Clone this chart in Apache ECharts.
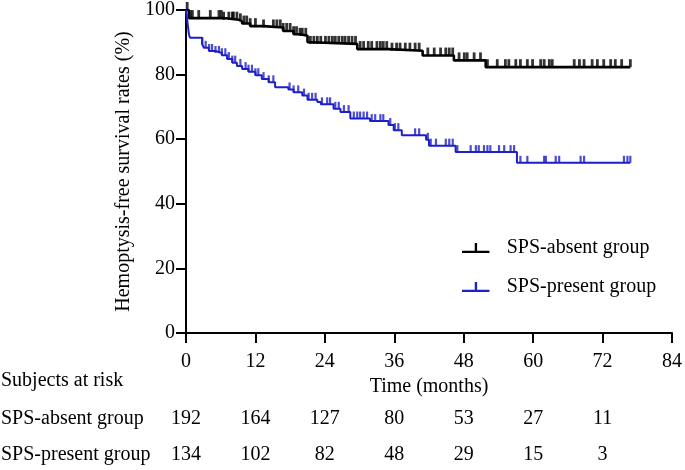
<!DOCTYPE html>
<html>
<head>
<meta charset="utf-8">
<script src="https://cdn.jsdelivr.net/npm/echarts@6/dist/echarts.min.js"></script>
<style>
html,body{margin:0;padding:0;background:#fff;}
#chart{width:685px;height:470px;}
</style>
</head>
<body>
<div id="chart"></div>
<script>
// ---- Data ----
const absentName = 'SPS-absent group';
const presentName = 'SPS-present group';

const absentTimes = [0, 0.5, 6.5, 9.1, 9.7, 11.1, 13.4, 16.8, 18.6, 19.7, 21.0, 21.5, 29.6, 35.0, 40.9, 46.3, 51.8, 76.8];
const absentSurv  = [100, 97.5, 97.0, 96.5, 95.8, 95.0, 94.6, 93.5, 92.5, 92.0, 90.0, 89.5, 87.9, 87.4, 85.9, 84.4, 82.3, 82.3];

const presentTimes = [0, 0.15, 0.3, 0.5, 0.7, 2.8, 3.1, 3.95, 5.1, 6.2, 7.1, 8.0, 8.8, 9.7, 10.8, 12.0, 13.1, 14.3, 15.4, 17.7, 18.6, 20.1, 21.0, 22.7, 23.3, 25.5, 26.7, 28.4, 31.8, 35.0, 35.9, 37.3, 41.5, 42.0, 46.6, 57.2, 76.8];
const presentSurv  = [100, 98, 95.5, 92.5, 91.4, 89.4, 88.3, 87.3, 86.7, 86.0, 84.8, 83.7, 82.7, 81.7, 80.9, 79.8, 78.6, 77.6, 76.1, 75.4, 74.5, 73.5, 72.2, 71.5, 70.8, 69.4, 68.4, 66.4, 65.6, 64.4, 62.8, 61.2, 59.8, 58.0, 56.0, 52.7, 52.7];

const absentCensor = [0.2, 0.7, 1.1, 2.2, 4.2, 5.7, 6.1, 6.5, 7.4, 8.0, 8.2, 8.8, 9.4, 10.0, 10.5, 11.1, 12.0, 13.4, 15.1, 15.7, 16.3, 16.8, 17.4, 18.0, 18.6, 19.1, 19.7,
  20.1, 20.7, 21.5, 22.1, 22.7, 23.3, 24.1, 24.7, 25.3, 25.8, 26.4, 27.0, 27.5, 28.1, 28.7, 29.3, 30.1, 30.7, 31.5, 32.1, 33.0, 33.6, 34.1, 34.7, 35.6, 36.4, 37.0, 37.9, 38.7, 39.6,
  40.3, 41.8, 42.9, 44.0, 44.9, 45.5, 46.1, 47.2, 48.1, 48.6, 49.8, 50.9, 52.1, 53.8, 55.2, 55.8, 57.0, 57.8, 59.0,
  59.9, 61.3, 61.9, 62.8, 63.3, 67.1, 68.0, 68.8, 70.2, 71.1, 72.2, 73.4, 74.2, 75.3, 76.8];

const presentCensor = [2.8, 3.4, 4.0, 4.5, 5.1, 5.7, 6.2, 6.8, 7.4, 8.0, 8.5, 9.4, 10.3, 10.8, 11.4, 12.0, 12.5, 13.4, 14.3, 15.1, 17.9, 18.6, 19.4,
  20.4, 21.2, 21.8, 22.4, 23.5, 24.4, 24.9, 25.8, 26.4, 27.3, 28.1, 29.0, 29.6, 30.1, 30.7, 31.3, 32.1, 32.7, 33.6, 34.1, 35.3, 36.1, 36.7, 39.6,
  40.3, 41.8, 42.3, 43.2, 44.9, 45.5, 46.1, 46.9, 49.2, 50.1, 50.6, 51.5, 52.1, 52.6, 54.1, 55.0, 56.1, 56.7, 57.8, 59.0,
  61.9, 62.2, 63.9, 64.5, 68.2, 68.8, 75.7, 76.3, 76.8];

const riskTimes = [0, 12, 24, 36, 48, 60, 72];
const riskAbsent = [192, 164, 127, 80, 53, 27, 11];
const riskPresent = [134, 102, 82, 48, 29, 15, 3];

// ---- Helpers ----
function survAt(times, surv, t) {
  let v = surv[0];
  for (let i = 0; i < times.length; i++) { if (times[i] <= t) v = surv[i]; else break; }
  return v;
}
const zip = (a, b) => a.map((v, i) => [v, b[i]]);

const FONT = 'Liberation Serif';
const FS = 20;
const BLACK = '#000000';
const BLUE = '#1f1fc8';

const chart = echarts.init(document.getElementById('chart'), null, {renderer: 'canvas'});

const iconPath = 'path://M0,8 L28,8 L28,10.2 L0,10.2 Z M13,0 L15.4,0 L15.4,8 L13,8 Z';

const option = {
  animation: false,
  backgroundColor: '#ffffff',
  textStyle: {fontFamily: FONT},
  grid: {left: 186, right: 10, top: 7, bottom: 137, containLabel: false},
  legend: {
    orient: 'vertical',
    left: 462, top: 238, padding: 0,
    itemWidth: 28, itemHeight: 10,
    itemGap: 19,
    icon: iconPath,
    data: [absentName, presentName],
    textStyle: {fontFamily: FONT, fontSize: FS, color: '#000', padding: [8, 0, 0, 12]}
  },
  xAxis: {
    type: 'value', min: 0, max: 84, interval: 12,
    name: 'Time (months)', nameLocation: 'middle', nameGap: 40,
    nameTextStyle: {fontFamily: FONT, fontSize: FS, color: '#000'},
    axisLine: {onZero: false, lineStyle: {color: '#000', width: 2}},
    axisTick: {show: true, length: 10, lineStyle: {color: '#000', width: 2}},
    axisLabel: {margin: 19, fontFamily: FONT, fontSize: FS, color: '#000'},
    splitLine: {show: false}
  },
  yAxis: {
    type: 'value', min: 0, max: 100, interval: 20,
    name: 'Hemoptysis-free survival rates (%)', nameLocation: 'middle', nameGap: 50,
    nameTextStyle: {fontFamily: FONT, fontSize: FS, color: '#000'},
    axisLine: {show: true, onZero: false, lineStyle: {color: '#000', width: 2}},
    axisTick: {show: true, length: 10, lineStyle: {color: '#000', width: 2}},
    axisLabel: {margin: 11, fontFamily: FONT, fontSize: FS, color: '#000'},
    splitLine: {show: false}
  },
  series: [
    {
      name: absentName, type: 'line', step: 'end', symbol: 'none',
      data: zip(absentTimes, absentSurv),
      lineStyle: {color: BLACK, width: 2.6}, itemStyle: {color: BLACK}, z: 3
    },
    {
      name: presentName, type: 'line', step: 'end', symbol: 'none',
      data: zip(presentTimes, presentSurv),
      lineStyle: {color: BLUE, width: 2}, itemStyle: {color: BLUE}, z: 3
    },
    {
      name: 'absent-censor', type: 'scatter', symbol: 'rect', symbolSize: [2.8, 8], symbolOffset: [0, -4],
      data: absentCensor.map(t => [t, survAt(absentTimes, absentSurv, t)]),
      itemStyle: {color: BLACK}, z: 4, silent: true
    },
    {
      name: 'present-censor', type: 'scatter', symbol: 'rect', symbolSize: [2.2, 7], symbolOffset: [0, -3.5],
      data: presentCensor.map(t => [t, survAt(presentTimes, presentSurv, t)]),
      itemStyle: {color: BLUE}, z: 4, silent: true
    }
  ]
};
chart.setOption(option);

// ---- Number-at-risk table (x positions from the chart's x scale) ----
const txt = (text, x, y, align) => ({
  type: 'text', x: x, y: y,
  style: {text: text, fill: '#000', font: FS + 'px "' + FONT + '"', textAlign: align, textVerticalAlign: 'middle'}
});
const g = [];
g.push(txt('Subjects at risk', 1, 381, 'left'));
g.push(txt(absentName, 1, 419, 'left'));
g.push(txt(presentName, 1, 455, 'left'));
riskTimes.forEach((t, i) => {
  const px = chart.convertToPixel({xAxisIndex: 0}, t);
  g.push(txt(String(riskAbsent[i]), px, 419, 'center'));
  g.push(txt(String(riskPresent[i]), px, 455, 'center'));
});
chart.setOption({graphic: g});
</script>
</body>
</html>
